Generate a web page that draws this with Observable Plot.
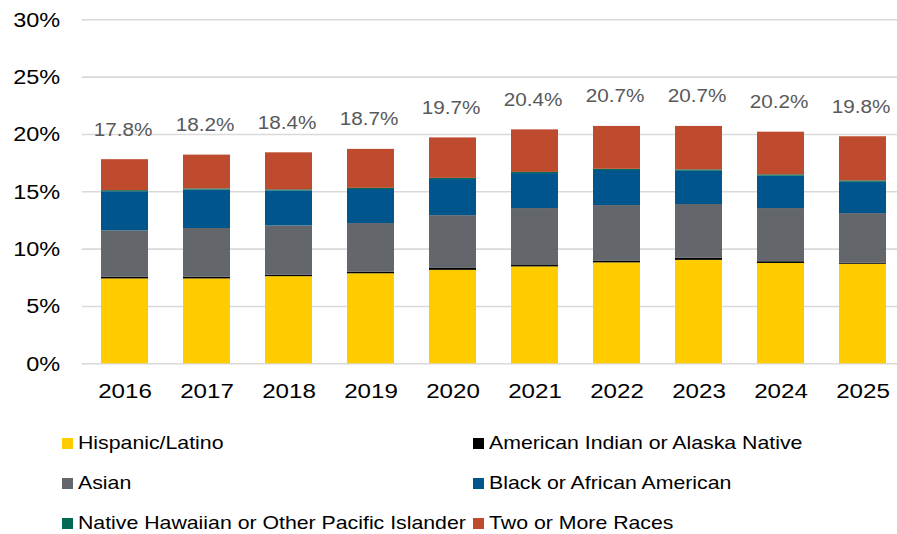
<!DOCTYPE html>
<html>
<head>
<meta charset="utf-8">
<script src="https://cdn.jsdelivr.net/npm/d3@7"></script>
<script src="https://cdn.jsdelivr.net/npm/@observablehq/plot@0.6"></script>
<style>
  html, body { margin: 0; padding: 0; background: #fff; overflow: hidden; }
  body { width: 897px; height: 534px; position: relative; font-family: "Liberation Sans", Arial, sans-serif; }
  #chart { position: absolute; left: 0; top: 0; }
  .lg { position: absolute; font-size: 18.5px; color: #000; white-space: nowrap; line-height: 1; transform: scaleX(1.15); transform-origin: 0 50%; }
  .sw { position: absolute; width: 11px; height: 11px; }
</style>
</head>
<body>
<div id="chart"></div>
<div id="legend"></div>
<script>
const years = ["2016","2017","2018","2019","2020","2021","2022","2023","2024","2025"];
const groups = ["Hispanic/Latino","American Indian or Alaska Native","Asian","Black or African American","Native Hawaiian or Other Pacific Islander","Two or More Races"];
const colors = ["#FFCC00","#000000","#63666A","#00558C","#006A52","#BE4B2D"];
const hispanic = [7.40, 7.40, 7.60, 7.85, 8.15, 8.45, 8.80, 9.02, 8.75, 8.68];
const aian     = [0.15, 0.15, 0.12, 0.15, 0.17, 0.12, 0.13, 0.18, 0.15, 0.10];
const asian    = [4.05, 4.25, 4.30, 4.23, 4.60, 4.97, 4.87, 4.69, 4.64, 4.32];
const black    = [3.40, 3.35, 3.05, 2.97, 3.15, 3.05, 3.06, 2.90, 2.82, 2.73];
const nhpi     = [0.10, 0.10, 0.10, 0.10, 0.10, 0.10, 0.10, 0.12, 0.12, 0.12];
const twoMore  = [2.70, 2.95, 3.23, 3.40, 3.53, 3.71, 3.74, 3.79, 3.72, 3.85];
const totals   = [17.8, 18.2, 18.4, 18.7, 19.7, 20.4, 20.7, 20.7, 20.2, 19.8];
const yTicks = [0, 5, 10, 15, 20, 25, 30];

const series = [hispanic, aian, asian, black, nhpi, twoMore];
const rows = [];
years.forEach((yr, i) => {
  groups.forEach((g, j) => rows.push({year: yr, group: g, value: series[j][i]}));
});
const labels = years.map((yr, i) => ({year: yr, total: totals[i]}));

const chart = Plot.plot({
  width: 897,
  height: 420,
  marginLeft: 81.7,
  marginRight: 0,
  marginTop: 19.3,
  marginBottom: 56.7,
  style: {fontFamily: '"Liberation Sans", Arial, sans-serif', background: "#fff"},
  x: {domain: years, range: [81.25, 906.25], paddingInner: 0.43, paddingOuter: 0.215, label: null},
  y: {domain: [0, 30], ticks: yTicks, label: null},
  color: {domain: groups, range: colors},
  marks: [
    Plot.ruleY(yTicks, {stroke: "#d9d9d9", strokeWidth: 1.6}),
    Plot.barY(rows, {x: "year", y: "value", fill: "group", order: groups}),
    Plot.text(labels, {x: "year", y: "total", text: d => d.total.toFixed(1) + "%", dy: -30, dx: -2, fill: "#595959", fontSize: 18.5, className: "vlabel"}),
    Plot.axisY({ticks: yTicks, tickFormat: d => d + "%", tickSize: 0, tickPadding: 22, fontSize: 21, fill: "#000", label: null, className: "ytick"}),
    Plot.axisX({tickSize: 0, tickPadding: 19, fontSize: 21, fill: "#000", label: null, className: "xtick"})
  ]
});
document.getElementById("chart").appendChild(chart);

// widen glyphs horizontally around their anchor, as in the reference rendering
chart.querySelectorAll("text").forEach(t => {
  const s = t.closest(".vlabel") ? 1.12 : t.closest(".ytick") ? 1.12 : 1.15;
  const tr = t.getAttribute("transform");
  if (tr) {
    t.setAttribute("transform", tr + ` scale(${s},1)`);
  } else {
    const x = +(t.getAttribute("x") || 0);
    t.setAttribute("transform", `translate(${x},0) scale(${s},1) translate(${-x},0)`);
  }
});

const legendPos = [
  [62, 437.5], [473, 437.5],
  [62, 477.5], [473, 477.5],
  [62, 517.5], [473, 517.5]
];
const lg = document.getElementById("legend");
groups.forEach((g, j) => {
  const [x, y] = legendPos[j];
  const sw = document.createElement("div");
  sw.className = "sw";
  sw.style.left = x + "px";
  sw.style.top = y + "px";
  sw.style.background = colors[j];
  lg.appendChild(sw);
  const t = document.createElement("div");
  t.className = "lg";
  t.style.left = (x + 16) + "px";
  t.style.top = (y - 4) + "px";
  t.textContent = g;
  lg.appendChild(t);
});
</script>
</body>
</html>
